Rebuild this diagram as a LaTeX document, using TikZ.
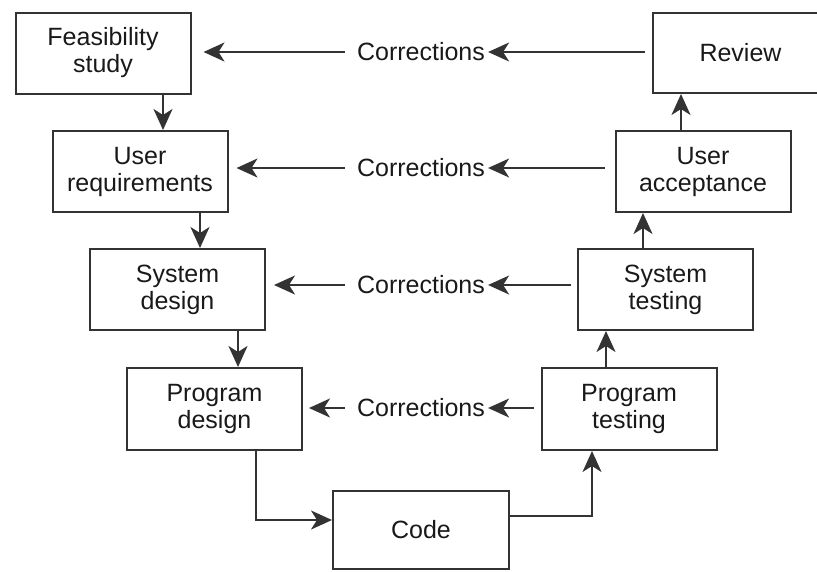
\documentclass[tikz,border=0pt]{standalone}
\usepackage{fontspec}
\setmainfont{Liberation Sans}
\usetikzlibrary{arrows.meta}
\begin{document}
\begin{tikzpicture}[x=1pt,y=-1pt,
  stagebox/.style={draw=black!80, line width=2pt, rectangle, minimum width=175pt, minimum height=81pt, align=center, inner sep=0pt, font=\fontsize{25}{27}\selectfont, text=black!90},
  flow/.style={draw=black!80, line width=1.8pt, -{Stealth[length=21pt,width=19pt,inset=6pt]}},
  corr/.style={font=\fontsize{25}{27}\selectfont, text=black!90, inner sep=0pt}]
\useasboundingbox (0,0) rectangle (817,571);
\node[stagebox] (fs) at (103,53) {Feasibility\\study};
\node[stagebox] (ur) at (140,171.5) {User\\requirements};
\node[stagebox] (sd) at (177.5,289.5) {System\\design};
\node[stagebox, minimum height=82pt] (pd) at (214.5,409) {Program\\design};
\node[stagebox, minimum width=176pt, minimum height=78pt] (code) at (421,530) {Code};
\node[stagebox, minimum height=82pt] (pt) at (629,409) {Program\\testing};
\node[stagebox] (st) at (665.5,289.5) {System\\testing};
\node[stagebox] (ua) at (703,171.5) {User\\acceptance};
\node[stagebox, minimum height=80pt] (rv) at (740.5,53) {Review};
% corrections labels
\node[corr] (c1) at (421,52) {Corrections};
\node[corr] (c2) at (421,168) {Corrections};
\node[corr] (c3) at (421,285) {Corrections};
\node[corr] (c4) at (421,408) {Corrections};
% downward chain
\draw[flow] (fs.south -| 163,0) -- (ur.north -| 163,0);
\draw[flow] (ur.south -| 200,0) -- (sd.north -| 200,0);
\draw[flow] (sd.south -| 238,0) -- (pd.north -| 238,0);
\draw[flow] (pd.south -| 256,0) |- (code.west |- 0,520);
\draw[flow] (code.east |- 0,516) -| (pt.south -| 592,0);
\draw[flow] (pt.north -| 606,0) -- (st.south -| 606,0);
\draw[flow] (st.north -| 643,0) -- (ua.south -| 643,0);
\draw[flow] (ua.north -| 681,0) -- (rv.south -| 681,0);
% corrections arrows
\draw[flow, shorten >=3pt, shorten <=7pt] (rv.west |- c1) -- (c1.east);
\draw[flow, shorten >=12pt, shorten <=12pt] (c1.west) -- (fs.east |- c1);
\draw[flow, shorten >=3pt, shorten <=10pt] (ua.west |- c2) -- (c2.east);
\draw[flow, shorten >=8pt, shorten <=12pt] (c2.west) -- (ur.east |- c2);
\draw[flow, shorten >=3pt, shorten <=6pt] (st.west |- c3) -- (c3.east);
\draw[flow, shorten >=8pt, shorten <=12pt] (c3.west) -- (sd.east |- c3);
\draw[flow, shorten >=3pt, shorten <=7pt] (pt.west |- c4) -- (c4.east);
\draw[flow, shorten >=6pt, shorten <=12pt] (c4.west) -- (pd.east |- c4);
\end{tikzpicture}
\end{document}
